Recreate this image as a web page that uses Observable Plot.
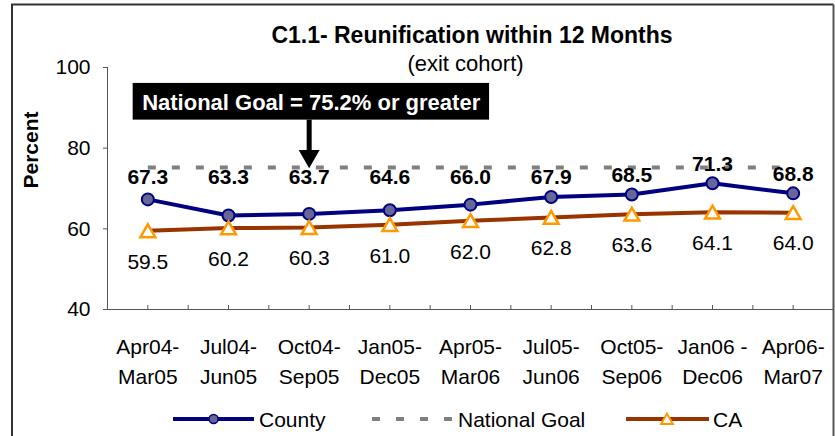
<!DOCTYPE html>
<html>
<head>
<meta charset="utf-8">
<script src="https://cdn.jsdelivr.net/npm/d3@7"></script>
<script src="https://cdn.jsdelivr.net/npm/@observablehq/plot@0.6"></script>
<style>
  body { margin: 0; background: #fff; }
  svg text { font-family: 'Liberation Sans', Arial, sans-serif; }
</style>
</head>
<body>
<div id="chart"></div>
<script>
// ---- data ----
const categories = ["Apr04-\nMar05", "Jul04-\nJun05", "Oct04-\nSep05", "Jan05-\nDec05", "Apr05-\nMar06",
                    "Jul05-\nJun06", "Oct05-\nSep06", "Jan06 -\nDec06", "Apr06-\nMar07"];
const county = [67.3, 63.3, 63.7, 64.6, 66.0, 67.9, 68.5, 71.3, 68.8];
const ca = [59.5, 60.2, 60.3, 61.0, 62.0, 62.8, 63.6, 64.1, 64.0];
const nationalGoal = 75.2;
const yTicks = [40, 60, 80, 100];
const title = "C1.1- Reunification within 12 Months";
const subtitle = "(exit cohort)";
const yLabel = "Percent";
const goalNote = "National Goal = 75.2% or greater";
const goalNoteCategory = 2;
const seriesNames = ["County", "National Goal", "CA"];

// ---- styles ----
const NAVY = "#000080", NAVY_FILL = "#666699", GOAL = "#808080", CA_LINE = "#993300", CA_MARK = "#FF9900", AXIS = "#555";
const FONT = "'Liberation Sans', Arial, sans-serif";

const countyData = county.map((v, i) => ({i, v}));
const caData = ca.map((v, i) => ({i, v}));
const goalData = categories.map((c, i) => ({i, v: nationalGoal}));
const xTicks = d3.range(-0.5, categories.length, 0.5);

const chart = Plot.plot({
  width: 835,
  height: 436,
  marginLeft: 107,
  marginRight: 2,
  marginTop: 67,
  marginBottom: 127,
  style: {fontFamily: FONT, color: "#000", background: "#fff", overflow: "visible"},
  x: {type: "linear", domain: [-0.5, categories.length - 0.5], axis: null},
  y: {domain: [40, 100], axis: null},
  marks: [
    // axes
    Plot.ruleX([-0.5], {stroke: AXIS, strokeWidth: 1}),
    Plot.ruleY([40], {stroke: AXIS, strokeWidth: 1}),
    Plot.ruleY(yTicks, {y: d => d, x1: -0.5, x2: -0.5, insetLeft: -4, stroke: AXIS}),
    Plot.ruleX(xTicks, {x: d => d, insetTop: 238, stroke: AXIS}),
    Plot.text(yTicks, {frameAnchor: "left", y: d => d, text: d => String(d), textAnchor: "end", dx: -17, fontSize: 21}),
    Plot.text(categories, {x: (d, i) => i, frameAnchor: "bottom", text: d => d, lineAnchor: "top", dy: 23, lineHeight: 1.43, fontSize: 21}),
    Plot.text([yLabel], {frameAnchor: "left", text: d => d, rotate: -90, dx: -76, fontSize: 21, fontWeight: "bold"}),
    // titles
    Plot.text([title], {frameAnchor: "top", text: d => d, dy: -41, dx: 1.5, fontSize: 23, fontWeight: "bold"}),
    Plot.text([subtitle], {frameAnchor: "top", text: d => d, dy: -12.3, dx: -5, fontSize: 22}),
    // County series
    Plot.line(countyData, {x: "i", y: "v", stroke: NAVY, strokeWidth: 4}),
    Plot.dot(countyData, {x: "i", y: "v", r: 6, fill: NAVY_FILL, stroke: NAVY, strokeWidth: 2}),
    // National goal
    Plot.line(goalData, {x: "i", y: "v", stroke: GOAL, strokeWidth: 4, strokeDasharray: "8,16", strokeLinecap: "butt"}),
    // CA series
    Plot.line(caData, {x: "i", y: "v", stroke: CA_LINE, strokeWidth: 4}),
    Plot.dot(caData, {x: "i", y: "v", symbol: "triangle", r: 5.5, fill: "white", stroke: CA_MARK, strokeWidth: 2.5, dy: 2}),
    // data labels
    Plot.text(countyData, {x: "i", y: d => Math.max(72.8, d.v + 4.7), text: d => d.v.toFixed(1), fontSize: 21, fontWeight: "bold"}),
    Plot.text(caData, {x: "i", y: "v", text: d => d.v.toFixed(1), dy: 31, fontSize: 21}),
    // annotation: black box, arrow and white text, anchored on the goal value at the 3rd category
    Plot.rect([goalNote], {x1: () => goalNoteCategory, x2: () => goalNoteCategory, y1: () => nationalGoal, y2: () => nationalGoal,
      insetLeft: -176, insetRight: -180.4, insetTop: -84.1, insetBottom: 47.4, fill: "#000"}),
    Plot.ruleX([goalNoteCategory], {x: d => d, y1: nationalGoal, y2: nationalGoal, insetTop: -47.4, insetBottom: 14, stroke: "#000", strokeWidth: 5}),
    Plot.dot([goalNoteCategory], {x: d => d, y: () => nationalGoal, symbol: "triangle", rotate: 180, r: 7.8, fill: "#000", stroke: "none", dy: -11.5}),
    Plot.text([goalNote], {x: () => goalNoteCategory, y: () => nationalGoal, text: d => d, dy: -65, dx: 2, fill: "#fff", fontSize: 22, fontWeight: "bold"})
  ]
});

document.getElementById("chart").append(chart);
const svg = d3.select(chart);

// legend
const lg = svg.append("g").attr("font-family", FONT).attr("font-size", 21).attr("text-anchor", "start").attr("fill", "#000");
const ly = 419;
// County
lg.append("line").attr("x1", 173).attr("x2", 254).attr("y1", ly).attr("y2", ly).attr("stroke", NAVY).attr("stroke-width", 4);
lg.append("circle").attr("cx", 213.6).attr("cy", ly).attr("r", 4.5).attr("fill", NAVY_FILL).attr("stroke", NAVY).attr("stroke-width", 1.5);
lg.append("text").attr("x", 259).attr("y", 427).text(seriesNames[0]);
// National goal
lg.append("line").attr("x1", 372).attr("x2", 453).attr("y1", ly).attr("y2", ly).attr("stroke", GOAL).attr("stroke-width", 4).attr("stroke-dasharray", "8,16");
lg.append("text").attr("x", 458).attr("y", 427).text(seriesNames[1]);
// CA
lg.append("line").attr("x1", 626).attr("x2", 709).attr("y1", ly).attr("y2", ly).attr("stroke", CA_LINE).attr("stroke-width", 4);
lg.append("path").attr("d", d3.symbol(d3.symbolTriangle, 60)()).attr("transform", `translate(667,${ly + 1.5})`)
  .attr("fill", "#fff").attr("stroke", CA_MARK).attr("stroke-width", 2);
lg.append("text").attr("x", 713).attr("y", 427).text(seriesNames[2]);

// outer border (bottom is cut off in the reference)
const bd = svg.append("g").attr("fill", "none");
bd.append("path").attr("d", "M12,436 L12,4.5 L833.5,4.5").attr("stroke", "#333").attr("stroke-width", 2);
bd.append("line").attr("x1", 833.5).attr("x2", 833.5).attr("y1", 4.5).attr("y2", 436).attr("stroke", "#555").attr("stroke-width", 2);
</script>
</body>
</html>
